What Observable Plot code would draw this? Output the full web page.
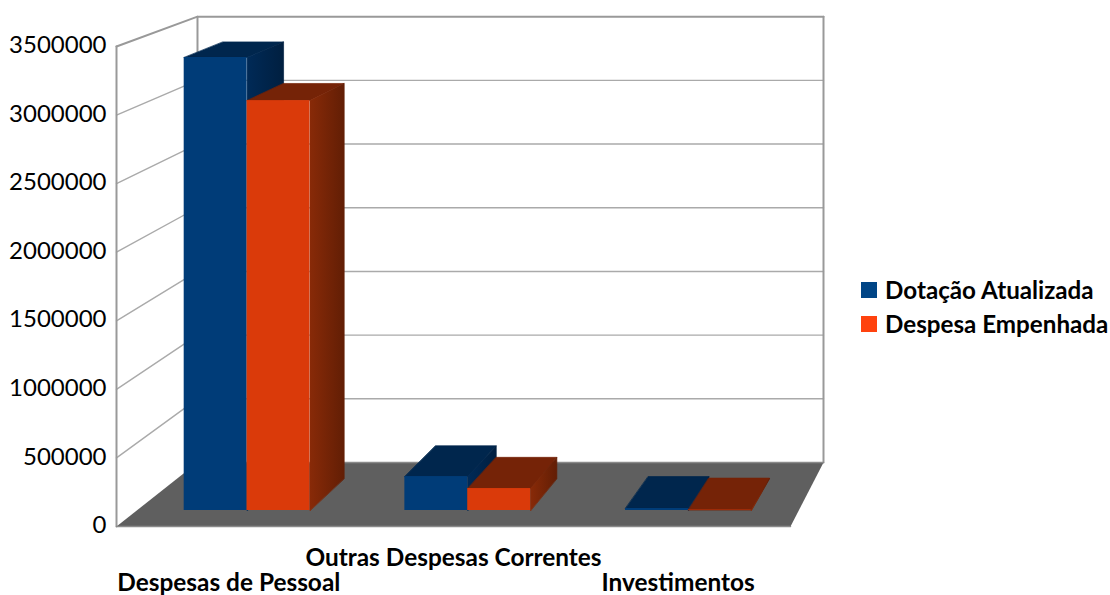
<!DOCTYPE html>
<html><head><meta charset="utf-8">
<script src="https://cdn.jsdelivr.net/npm/d3@7"></script>
<script src="https://cdn.jsdelivr.net/npm/@observablehq/plot@0.6"></script>
<style>
html,body{margin:0;padding:0;background:#fff;overflow:hidden}
#wrap{position:relative;width:1110px;height:595px}
.leg{position:absolute;left:861px;font:700 24.2px Lato,sans-serif;color:#000;white-space:nowrap;display:flex;align-items:center;height:20px}
.leg i{display:inline-block;width:16px;height:16px;margin-right:8px}
.leg span{position:relative;top:-1px}
</style></head><body><div id="wrap"></div>
<script>
const categories = ["Despesas de Pessoal", "Outras Despesas Correntes", "Investimentos"];
const dotacao = [3363000, 252000, 15000];
const empenhada = [3043000, 163000, 3000];
const seriesNames = ["Dotação Atualizada", "Despesa Empenhada"];
const ticks = [0, 500000, 1000000, 1500000, 2000000, 2500000, 3000000, 3500000];
const legendColors = ["#004586", "#ff420e"];

// oblique perspective: depth d in [0,1] from front plane to back wall
const backShift = 0.3605, shrink = 0.0712, floorRise = 466667;
const px = (x, d) => backShift * d + x * (1 - shrink * d);
const py = (v, d) => floorRise * d + v * (1 - shrink * d);
const P = (x, v, d) => ({x: px(x, d), y: py(v, d)});
const poly = (pts, opts) => Plot.line(pts, {x: "x", y: "y", curve: "linear-closed", stroke: "none", ...opts});
const seg = (pts, opts) => Plot.line(pts, {x: "x", y: "y", curve: "linear", ...opts});

const nCat = categories.length, maxV = ticks[ticks.length - 1];
const dF = 0.25, dB = 0.75; // bar depth extents
const barEdges = [[0.215, 0.5], [0.5, 0.785]];
const frontFill = ["#003c78", "#da3a0a"], topFill = ["#00264d", "#752307"];
const sideFill = ["url(#sideBlue)", "url(#sideRed)"];

const defs = () => {
  const s = d3.create("svg:defs");
  [["sideBlue", "#002a57", "#001f40"], ["sideRed", "#882a08", "#621e05"]].forEach(([id, a, b]) => {
    const g = s.append("linearGradient").attr("id", id);
    g.append("stop").attr("offset", "0").attr("stop-color", a);
    g.append("stop").attr("offset", "1").attr("stop-color", b);
  });
  return s.node();
};

const marks = [defs];
// walls
marks.push(poly([P(0, 0, 1), P(nCat, 0, 1), P(nCat, maxV, 1), P(0, maxV, 1)], {fill: "#fff"}));
// grid on left wall and back wall
for (const t of ticks.slice(1)) {
  marks.push(seg([P(0, t, 0), P(0, t, 1), P(nCat, t, 1)], {stroke: t === maxV ? "#999" : "#aaa", strokeWidth: t === maxV ? 2 : 1.4}));
}
// wall frame
marks.push(seg([P(0, 0, 0), P(0, maxV, 0)], {stroke: "#999", strokeWidth: 2}));
marks.push(seg([P(0, 0, 1), P(0, maxV, 1)], {stroke: "#999", strokeWidth: 2}));
marks.push(seg([P(nCat, 0, 1), P(nCat, maxV, 1)], {stroke: "#999", strokeWidth: 2}));
// floor
marks.push(poly([P(0, 0, 0), P(nCat, 0, 0), P(nCat, 0, 1), P(0, 0, 1)], {fill: "#5f5f5f"}));
marks.push(seg([P(0, 0, 0), P(nCat, 0, 0)], {stroke: "#8a8a8a", strokeWidth: 1.5}));
marks.push(seg([P(0, 0, 1), P(nCat, 0, 1)], {stroke: "#8a8a8a", strokeWidth: 1.5}));

// bars
[dotacao, empenhada].forEach((vals, s) => {
  vals.forEach((v, c) => {
    const a = c + barEdges[s][0], b = c + barEdges[s][1];
    marks.push(poly([P(a, v, dF), P(b, v, dF), P(b, v, dB), P(a, v, dB)], {fill: topFill[s], stroke: topFill[s], strokeWidth: 0.7}));
    marks.push(poly([P(b, 0, dF), P(b, v, dF), P(b, v, dB), P(b, 0, dB)], {fill: sideFill[s], stroke: sideFill[s], strokeWidth: 0.7}));
    marks.push(Plot.rect([v], {
      x1: () => px(a, dF), x2: () => px(b, dF), y1: () => py(0, dF), y2: d => py(d, dF), fill: frontFill[s]
    }));
  });
});

// y axis labels
marks.push(Plot.axisY(ticks, {
  anchor: "left", tickSize: 0, tickPadding: 10, dy: -1, tickFormat: d => String(d),
  fontSize: 24, fontFamily: "Lato", fill: "#000", label: null
}));
// category labels, staggered over two rows
const rowLabel = (row, dy) => Plot.text(categories, {
  x: (d, i) => i + 0.5, y: () => 0, text: d => d, dy,
  fontSize: 24.4, fontWeight: 700, fontFamily: "Lato", fill: "#000",
  filter: (d, i) => i % 2 === row
});
marks.push(rowLabel(0, 57), rowLabel(1, 32));

const chart = Plot.plot({
  width: 1110, height: 595,
  marginLeft: 116, marginRight: 320, marginTop: 46, marginBottom: 69,
  style: {background: "transparent", overflow: "visible"},
  x: {domain: [0, nCat], axis: null},
  y: {domain: [0, maxV], axis: null},
  marks
});
const wrap = document.getElementById("wrap");
wrap.appendChild(chart);
seriesNames.forEach((n, i) => {
  const d = document.createElement("div");
  d.className = "leg";
  d.style.top = (280 + i * 34) + "px";
  d.innerHTML = `<i style="background:${legendColors[i]}"></i><span>${n}</span>`;
  wrap.appendChild(d);
});
</script></body></html>
